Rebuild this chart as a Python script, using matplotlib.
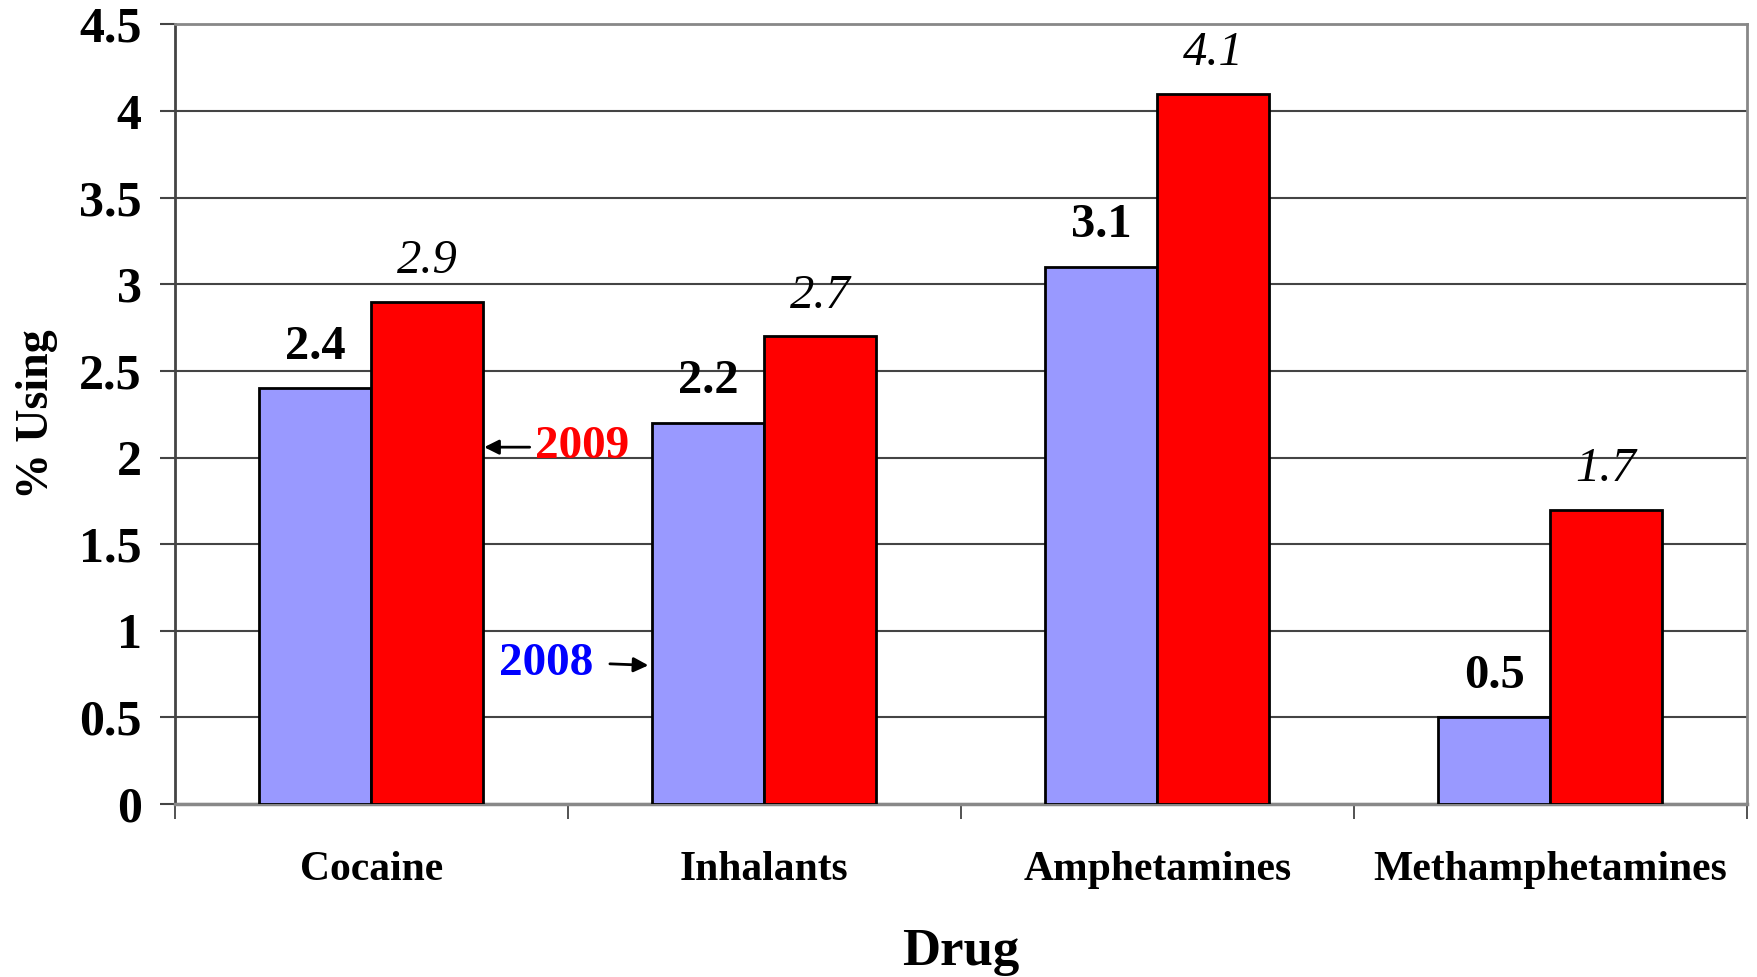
import matplotlib
matplotlib.use("Agg")
import matplotlib.pyplot as plt
import numpy as np

drugs = ["Cocaine", "Inhalants", "Amphetamines", "Methamphetamines"]
vals_2008 = [2.4, 2.2, 3.1, 0.5]
vals_2009 = [2.9, 2.7, 4.1, 1.7]
yticks = [0, 0.5, 1, 1.5, 2, 2.5, 3, 3.5, 4, 4.5]
ytick_labels = ["0", "0.5", "1", "1.5", "2", "2.5", "3", "3.5", "4", "4.5"]

plt.rcParams['font.family'] = ['Liberation Serif', 'DejaVu Serif']

fig = plt.figure(figsize=(17.58, 9.77), dpi=100)
ax = fig.add_axes([0.0995, 0.177, 0.894, 0.798])

x = np.arange(len(drugs))
w = 0.285
ax.bar(x - w/2, vals_2008, w, color="#9999FF", edgecolor="black", linewidth=2, zorder=3)
ax.bar(x + w/2, vals_2009, w, color="#FF0000", edgecolor="black", linewidth=2, zorder=3)

for xi, v in zip(x - w/2, vals_2008):
    ax.annotate(f"{v}", (xi, v), xytext=(0, 30), textcoords="offset points",
                ha="center", va="center", fontsize=35, fontweight="bold")
for xi, v in zip(x + w/2, vals_2009):
    ax.annotate(f"{v}", (xi, v), xytext=(0, 29),
                textcoords="offset points", ha="center", va="center",
                fontsize=35, fontstyle="italic")

ax.set_xlim(-0.5, len(drugs) - 0.5)
ax.set_ylim(0, 4.5)
ax.set_yticks(yticks)
ax.set_yticklabels(ytick_labels, fontsize=36, fontweight="bold")
ax.yaxis.grid(True, color="#444444", linewidth=1.5, zorder=0)
ax.tick_params(axis="y", length=11, width=1.5, color="#444444", pad=13)

ax.set_xticks(x)
ax.set_xticklabels(drugs, fontsize=30, fontweight="bold")
ax.tick_params(axis="x", which="major", length=0, pad=34)
ax.set_xticks(np.arange(-0.5, len(drugs), 1.0), minor=True)
ax.tick_params(axis="x", which="minor", length=11, width=1.3, color="#444444")

for s in ["top", "right"]:
    ax.spines[s].set_color("#888888")
    ax.spines[s].set_linewidth(2)
ax.spines["left"].set_color("#444444")
ax.spines["left"].set_linewidth(2)
ax.spines["bottom"].set_color("#888888")
ax.spines["bottom"].set_linewidth(2.5)

ax.set_ylabel("% Using", fontsize=33, fontweight="bold", labelpad=15)
ax.set_xlabel("Drug", fontsize=38, fontweight="bold", labelpad=28)

# annotations
ax.annotate("", xy=(0.28, 2.06), xytext=(0.41, 2.06),
            arrowprops=dict(arrowstyle="-|>", color="black", lw=2, mutation_scale=22))
ax.text(0.417, 2.06, "2009", color="#FF0000", fontsize=34, fontweight="bold",
        ha="left", va="center")
ax.annotate("", xy=(0.712, 0.80), xytext=(0.60, 0.81),
            arrowprops=dict(arrowstyle="-|>", color="black", lw=2, mutation_scale=22))
ax.text(0.566, 0.81, "2008", color="#0000FF", fontsize=34, fontweight="bold",
        ha="right", va="center")

fig.savefig("out.png", dpi=100, facecolor="white")
